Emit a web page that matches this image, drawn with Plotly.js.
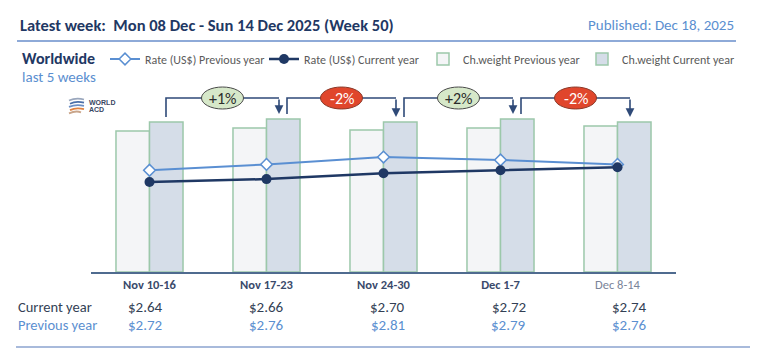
<!DOCTYPE html>
<html><head><meta charset="utf-8">
<script src="https://cdn.plot.ly/plotly-3.0.1.min.js"></script>
<style>html,body{margin:0;padding:0;background:#fff}#chart{width:768px;height:356px}</style>
</head><body><div id="chart"></div>
<script>
// ---- data ----
const weeks = ['Nov 10-16', 'Nov 17-23', 'Nov 24-30', 'Dec 1-7', 'Dec 8-14'];
const rateCurrent = [2.64, 2.66, 2.70, 2.72, 2.74];
const ratePrevious = [2.72, 2.76, 2.81, 2.79, 2.76];
const weightPrevious = [141, 144, 142, 144, 146];
const weightCurrent = [150, 153, 150, 153, 150];
const weekChange = ['+1%', '-2%', '+2%', '-2%'];

// ---- geometry helpers (layout only) ----
const W = 768, H = 356, ML = 91, MR = 92, MT = 80, MB = 84;
const PW = W - ML - MR, PH = H - MT - MB;
const px = x => (x - ML) / PW;
const py = y => (H - MB - y) / PH;
const FONT = "Carlito, Calibri, Lato, 'Open Sans', sans-serif";
const NAVY = '#1f3864', LIGHT = '#5b8fd0', ARROW = '#2f4a78';

const traces = [
  {type: 'bar', x: weeks, y: weightPrevious, name: 'Ch.weight Previous year', legendrank: 3,
   marker: {color: '#f4f5f7', line: {color: '#9cc8aa', width: 1.5}}, hoverinfo: 'skip'},
  {type: 'bar', x: weeks, y: weightCurrent, name: 'Ch.weight Current year', legendrank: 4,
   marker: {color: '#d5dde8', line: {color: '#9cc8aa', width: 1.5}}, hoverinfo: 'skip'},
  {type: 'scatter', mode: 'lines+markers', x: weeks, y: ratePrevious, yaxis: 'y2', legendrank: 1,
   name: 'Rate (US$) Previous year', line: {color: '#5a8fd2', width: 2},
   marker: {symbol: 'diamond', size: 9, color: '#ffffff', line: {color: '#5a8fd2', width: 1.5}}},
  {type: 'scatter', mode: 'lines+markers', x: weeks, y: rateCurrent, yaxis: 'y2', legendrank: 2,
   name: 'Rate (US$) Current year', line: {color: NAVY, width: 2.5},
   marker: {symbol: 'circle', size: 10, color: NAVY}}
];

const shapes = [];
const annotations = [];
const txt = (x, y, text, font, xanchor) => annotations.push({xref: 'paper', yref: 'paper', x: x, y: y,
  xanchor: xanchor || 'left', yanchor: 'middle', showarrow: false, text: text, font: font});

// header
txt(px(18), py(25), 'Latest week:  Mon 08 Dec - Sun 14 Dec 2025 (Week 50)', {family: FONT, size: 16.5, color: NAVY, weight: 600});
txt(px(736), py(25), 'Published: Dec 18, 2025', {family: FONT, size: 15, color: LIGHT}, 'right');
shapes.push({type: 'line', xref: 'paper', yref: 'paper', x0: px(17), x1: px(736), y0: py(41), y1: py(41), line: {color: '#8eaad8', width: 2}});
txt(px(20), py(58), '<b>Worldwide</b>', {family: FONT, size: 16, color: NAVY});
txt(px(20), py(77), 'last 5 weeks', {family: FONT, size: 15, color: LIGHT});

// logo
const logoCols = ['#9aa7bd', '#4b6fa8', '#6d8fc4', '#e0813f', '#c9a58a'];
logoCols.forEach((c, k) => {
  const y = 99 + k * 3.2;
  shapes.push({type: 'path', xref: 'paper', yref: 'paper', line: {color: c, width: 1.8},
    path: `M${px(69 + (k % 2))},${py(y + 1.5)} Q${px(76)},${py(y - 1.5)} ${px(84 - (k === 4 ? 3 : 0))},${py(y + 0.5)}`});
});
txt(px(87), py(102), '<b>WORLD</b>', {family: 'Liberation Sans, Arial, sans-serif', size: 7, color: '#3a4763'});
txt(px(87), py(109), '<b>ACD</b>', {family: 'Liberation Sans, Arial, sans-serif', size: 7, color: '#3a4763'});

// brackets with weekly change
const unitX = 1 / 117; // one pixel in category units
const barOff = 16.5 * unitX;
for (let i = 0; i < weekChange.length; i++) {
  const startX = i + barOff + (i > 0 ? 4 * unitX : 0);
  const tipX = (i + 1) + barOff - 4 * unitX;
  const level = Math.max(weightCurrent[i], weightCurrent[i + 1]) + 21;
  const startY = weightCurrent[i] + 5;
  const tipY = weightCurrent[i + 1] + 5;
  shapes.push({type: 'path', xref: 'x', yref: 'y', line: {color: ARROW, width: 1.6},
    path: `M${startX},${startY} L${startX},${level} L${tipX},${level}`});
  annotations.push({xref: 'x', yref: 'y', axref: 'x', ayref: 'y', x: tipX, y: tipY, ax: tipX, ay: level,
    text: '', showarrow: true, arrowhead: 2, arrowsize: 1.1, arrowwidth: 1.6, arrowcolor: ARROW});
  const cx = (startX + tipX) / 2;
  const pos = weekChange[i].startsWith('+');
  shapes.push({type: 'circle', xref: 'x', yref: 'y', layer: 'above',
    x0: cx - 21 * unitX, x1: cx + 21 * unitX, y0: level - 11, y1: level + 11,
    fillcolor: pos ? '#d6e8c9' : '#e0462c', line: {color: pos ? '#4a4a4a' : '#8a3a2a', width: 1}});
  annotations.push({xref: 'x', yref: 'y', x: cx, y: level, xanchor: 'center', yanchor: 'middle', showarrow: false, text: weekChange[i],
    font: {family: FONT, size: 16, color: pos ? '#2b2b2b' : '#ffffff'}});
}

// rate table
txt(px(16), py(307), 'Current year', {family: FONT, size: 14.5, color: '#333f55'});
txt(px(16), py(325), 'Previous year', {family: FONT, size: 14.5, color: LIGHT});
weeks.forEach((w, i) => {
  const cxp = (i + 0.5) / weeks.length + (i - 1) * 0.007;
  txt(cxp, py(307), '$' + rateCurrent[i].toFixed(2), {family: FONT, size: 15, color: '#333f55'}, 'center');
  txt(cxp, py(325), '$' + ratePrevious[i].toFixed(2), {family: FONT, size: 15, color: LIGHT}, 'center');
});
shapes.push({type: 'line', xref: 'paper', yref: 'paper', x0: px(16), x1: px(750), y0: py(347), y1: py(347), line: {color: '#a8badb', width: 2}});

const layout = {
  width: W, height: H,
  margin: {l: ML, r: MR, t: MT, b: MB, pad: 0},
  paper_bgcolor: '#ffffff', plot_bgcolor: '#ffffff',
  font: {family: FONT, color: '#333'},
  barmode: 'group', bargap: 0.427, bargroupgap: 0,
  showlegend: true,
  legend: {orientation: 'h', xref: 'paper', yref: 'paper', x: px(741), y: py(59), xanchor: 'right', yanchor: 'middle',
    font: {family: FONT, size: 12, color: '#5a5a5a'}, entrywidth: 114, entrywidthmode: 'pixels',
    bgcolor: 'rgba(0,0,0,0)', traceorder: 'normal'},
  xaxis: {type: 'category', range: [-0.5, 4.5], showline: true, linecolor: '#4f6b8f', linewidth: 2,
    showgrid: false, zeroline: false, ticks: '', fixedrange: true,
    tickvals: weeks, ticktext: weeks.map((w, i) => i < 4 ? '<b>' + w + '</b>' : '<span style="color:#7a8499">' + w + '</span>'),
    tickfont: {family: FONT, size: 12.5, color: '#3a4a6b'}},
  yaxis: {range: [0, 192], visible: false, fixedrange: true},
  yaxis2: {overlaying: 'y', range: [2.028, 3.334], visible: false, fixedrange: true},
  shapes: shapes,
  annotations: annotations
};

Plotly.newPlot('chart', traces, layout, {staticPlot: true, displayModeBar: false});
</script></body></html>
